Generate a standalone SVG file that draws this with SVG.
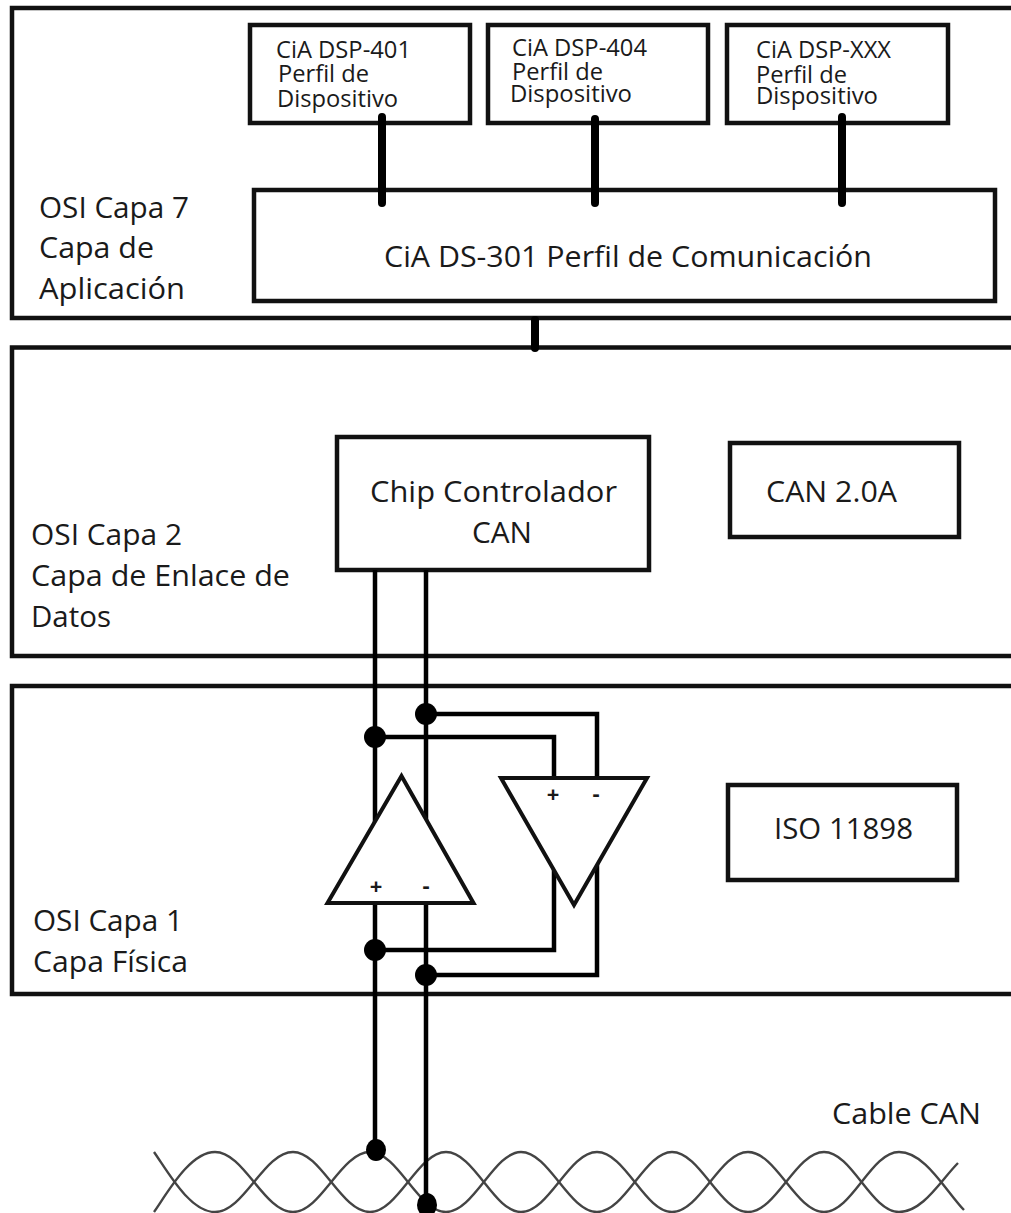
<svg xmlns="http://www.w3.org/2000/svg" width="1011" height="1213" viewBox="0 0 1011 1213">
<style>
.frame{fill:none;stroke:#111;stroke-width:4.500}
.box{fill:#fff;stroke:#111;stroke-width:4.500}
.tri{fill:#fff;stroke:#111;stroke-width:4;stroke-linejoin:miter}
.wire{fill:none;stroke:#000;stroke-width:4.500}
.bus{fill:none;stroke:#000;stroke-width:8;stroke-linecap:round}
.cable{fill:none;stroke:#444;stroke-width:2.400}
.dot{fill:#000}
text{font-family:"Open Sans","Liberation Sans",sans-serif;fill:#1a1a1a}
.l{font-size:30px}
.s{font-size:24px}
.sign{font-size:22px;font-weight:700;text-anchor:middle}
</style>
<rect width="1011" height="1213" fill="#fff"/>
<g id="layer-application">
<path class="frame" d="M1011 8H12V318H1011"/>
<text class="l" x="39" y="218" textLength="150" lengthAdjust="spacingAndGlyphs">OSI Capa 7</text>
<text class="l" x="39" y="258" textLength="115" lengthAdjust="spacingAndGlyphs">Capa de</text>
<text class="l" x="39" y="299" textLength="146" lengthAdjust="spacingAndGlyphs">Aplicación</text>
</g>
<g id="layer-datalink">
<path class="frame" d="M1011 347.500H12V656H1011"/>
<text class="l" x="31" y="545" textLength="151" lengthAdjust="spacingAndGlyphs">OSI Capa 2</text>
<text class="l" x="31" y="586" textLength="259" lengthAdjust="spacingAndGlyphs">Capa de Enlace de</text>
<text class="l" x="31" y="627" textLength="80" lengthAdjust="spacingAndGlyphs">Datos</text>
</g>
<g id="layer-physical">
<path class="frame" d="M1011 686H12V994H1011"/>
<text class="l" x="33" y="931" textLength="150" lengthAdjust="spacingAndGlyphs">OSI Capa 1</text>
<text class="l" x="33" y="972" textLength="155" lengthAdjust="spacingAndGlyphs">Capa Física</text>
</g>
<g id="dsp-401">
<rect class="box" x="250" y="25" width="220" height="98"/>
<text class="s" x="276" y="58" textLength="135" lengthAdjust="spacingAndGlyphs">CiA DSP-401</text>
<text class="s" x="278" y="82" textLength="91" lengthAdjust="spacingAndGlyphs">Perfil de</text>
<text class="s" x="277" y="107" textLength="121" lengthAdjust="spacingAndGlyphs">Dispositivo</text>
</g>
<g id="dsp-404">
<rect class="box" x="488" y="25" width="220" height="98"/>
<text class="s" x="512" y="56" textLength="135" lengthAdjust="spacingAndGlyphs">CiA DSP-404</text>
<text class="s" x="512" y="80" textLength="91" lengthAdjust="spacingAndGlyphs">Perfil de</text>
<text class="s" x="510" y="102" textLength="122" lengthAdjust="spacingAndGlyphs">Dispositivo</text>
</g>
<g id="dsp-xxx">
<rect class="box" x="727" y="25" width="221" height="98"/>
<text class="s" x="756" y="58" textLength="135" lengthAdjust="spacingAndGlyphs">CiA DSP-XXX</text>
<text class="s" x="756" y="83" textLength="91" lengthAdjust="spacingAndGlyphs">Perfil de</text>
<text class="s" x="756" y="104" textLength="122" lengthAdjust="spacingAndGlyphs">Dispositivo</text>
</g>
<g id="ds-301">
<rect class="box" x="254" y="190" width="741" height="111"/>
<text class="l" x="384" y="267" textLength="488" lengthAdjust="spacingAndGlyphs">CiA DS-301 Perfil de Comunicación</text>
</g>
<g id="chip">
<rect class="box" x="337" y="437" width="312" height="133"/>
<text class="l" x="370" y="502" textLength="247" lengthAdjust="spacingAndGlyphs">Chip Controlador</text>
<text class="l" x="472" y="543" textLength="60" lengthAdjust="spacingAndGlyphs">CAN</text>
</g>
<g id="can-20a">
<rect class="box" x="730" y="443" width="229" height="94"/>
<text class="l" x="766" y="502" textLength="131" lengthAdjust="spacingAndGlyphs">CAN 2.0A</text>
</g>
<g id="iso-11898">
<rect class="box" x="728" y="785" width="229" height="95"/>
<text class="l" x="774" y="839" textLength="139" lengthAdjust="spacingAndGlyphs">ISO 11898</text>
</g>
<g id="cable-can">
<path class="cable" d="M154 1152C168 1172 190 1212 215 1212c29 0 49-60 78-60c28 0 48 60 77 60c28 0 48-60 76-60c28 0 48 60 75 60c28 0 48-60 76-60c28 0 48 60 75 60c28 0 48-60 76-60c28 0 48 60 76 60c28 0 47-60 75-60c26 0 46 38 65 58"/>
<path class="cable" d="M154 1212C168 1192 190 1152 215 1152c29 0 49 60 78 60c28 0 48-60 77-60c28 0 48 60 76 60c28 0 48-60 75-60c28 0 48 60 76 60c28 0 48-60 75-60c28 0 48 60 76 60c28 0 48-60 76-60c28 0 47 60 75 60c24 0 42-32 59-49"/>
<text class="l" x="832" y="1124" textLength="149" lengthAdjust="spacingAndGlyphs">Cable CAN</text>
</g>
<g id="connectors">
<path class="bus" d="M382 117V203M595 119V203M842 117V203"/>
<path class="bus" d="M535 320V348" stroke-linecap="butt"/>
<path class="wire" d="M375 570V1150M426 570V1205"/>
<path class="wire" d="M426 714H597V780M375 737H554V780"/>
<path class="wire" d="M554 860V950H375M597 860V975H426"/>
<ellipse class="dot" cx="375" cy="737" rx="11" ry="11"/>
<ellipse class="dot" cx="426" cy="714" rx="11" ry="11"/>
<ellipse class="dot" cx="375" cy="950" rx="11" ry="11"/>
<ellipse class="dot" cx="426" cy="975" rx="11" ry="11"/>
<ellipse class="dot" cx="376" cy="1150" rx="10" ry="11"/>
<ellipse class="dot" cx="427" cy="1205" rx="10" ry="12"/>
</g>
<g id="receiver">
<path class="tri" d="M401.500 776L327.500 903H473.500Z"/>
<text class="sign" x="376" y="894">+</text>
<text class="sign" x="426" y="893">-</text>
</g>
<g id="driver">
<path class="tri" d="M501 778H647L574 905Z"/>
<text class="sign" x="553" y="802">+</text>
<text class="sign" x="596" y="801">-</text>
</g>
</svg>
